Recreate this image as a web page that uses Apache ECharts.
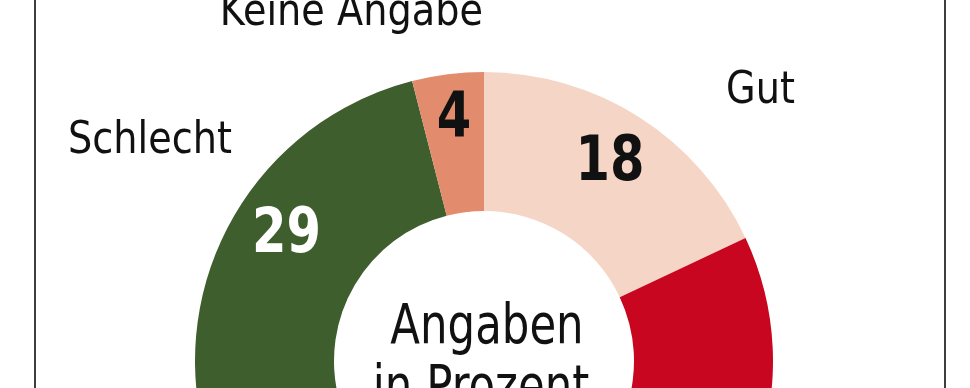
<!DOCTYPE html>
<html><head><meta charset="utf-8">
<script src="https://cdn.jsdelivr.net/npm/echarts@6/dist/echarts.min.js"></script>
<style>html,body{margin:0;padding:0;background:#fff}#c{width:970px;height:388px}</style>
</head><body><div id="c"></div>
<script>
// ---- data ----
const categories = ['Gut', 'Teils, teils', 'Schlecht', 'Keine Angabe'];
const values = [18, 49, 29, 4];
const centerLines = ['Angaben', 'in Prozent'];

// ---- styling / label placement (polar, relative to pie centre) ----
const sliceColors = ['#F5D5C5', '#C8061F', '#3E5E2D', '#E28C6D'];
const valueColors = ['#111111', '#ffffff', '#ffffff', '#111111'];
const valueLabelAngle = [32.55, 153, -57.6, -7.1];
const valueLabelRadius = [234.2, 236, 233.9, 243.3];
const nameLabelAngle = [45.74, 140, -56.7, -20.9];
const nameLabelRadius = [386.0, 400, 399.6, 371.8];

const CX = 484, CY = 361, R_IN = 150, R_OUT = 289;
const FONT = "'DejaVu Sans', 'Liberation Sans', sans-serif";

function polar(aDeg, r) {
  const a = aDeg * Math.PI / 180;
  return [CX + r * Math.sin(a), CY - r * Math.cos(a)];
}

const graphics = [{
  type: 'rect', z: 0, silent: true,
  shape: { x: 35, y: -10, width: 910, height: 420 },
  style: { fill: 'none', stroke: '#2a2a2a', lineWidth: 1.8 }
}];

categories.forEach((name, i) => {
  const [vx, vy] = polar(valueLabelAngle[i], valueLabelRadius[i]);
  graphics.push({
    type: 'text', z: 100, silent: true, x: vx, y: vy, scaleX: 0.8,
    style: { text: String(values[i]), fontSize: 62, fontWeight: 'bold', fontFamily: FONT,
      fill: valueColors[i], align: 'center', verticalAlign: 'middle',
      textAlign: 'center', textVerticalAlign: 'middle' }
  });
  const [nx, ny] = polar(nameLabelAngle[i], nameLabelRadius[i]);
  graphics.push({
    type: 'text', z: 100, silent: true, x: nx, y: ny, scaleX: 0.85,
    style: { text: name, fontSize: 45, fontFamily: FONT, fill: '#111111',
      align: 'center', verticalAlign: 'middle', textAlign: 'center', textVerticalAlign: 'middle' }
  });
});

const centerX = [487, 481];
centerLines.forEach((t, i) => {
  graphics.push({
    type: 'text', z: 100, silent: true, x: centerX[i], y: 328.7 + i * 61, scaleX: 0.79,
    style: { text: t, fontSize: 55, fontFamily: FONT, fill: '#111111',
      align: 'center', verticalAlign: 'middle', textAlign: 'center', textVerticalAlign: 'middle' }
  });
});

const chart = echarts.init(document.getElementById('c'), null, { renderer: 'canvas' });
chart.setOption({
  animation: false,
  backgroundColor: '#ffffff',
  series: [{
    type: 'pie',
    center: [CX, CY],
    radius: [R_IN, R_OUT],
    startAngle: 90,
    clockwise: true,
    silent: true,
    label: { show: false },
    labelLine: { show: false },
    itemStyle: { borderWidth: 0 },
    data: categories.map((n, i) => ({ name: n, value: values[i], itemStyle: { color: sliceColors[i] } }))
  }],
  graphic: graphics
});
</script>
</body></html>
